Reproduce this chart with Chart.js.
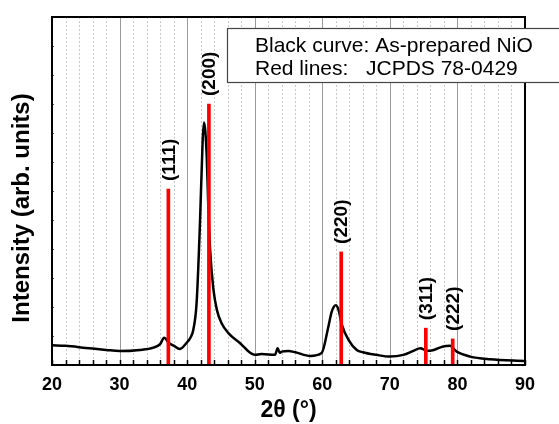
<!DOCTYPE html>
<html>
<head>
<meta charset="utf-8">
<script src="https://cdn.jsdelivr.net/npm/chart.js@4.4.1/dist/chart.umd.min.js"></script>
<style>
  html, body { margin: 0; padding: 0; background: #fff; }
  #wrap { position: relative; width: 559px; height: 424px; }
</style>
</head>
<body>
<div id="wrap"><canvas id="xrdChart"></canvas></div>
<script>
// measured pattern (2theta in degrees, intensity in arbitrary units)
const twoTheta = [20, 22, 25, 28, 30, 33, 35, 36, 36.6, 37.3, 38, 38.9, 39.9, 40.5, 40.9, 41.4, 41.9, 42.3, 42.5,
  42.9, 43.1, 43.4, 43.9, 44.4, 45.1, 46.1, 47.8, 50, 51, 53, 53.4, 53.7, 54, 55, 56, 58.2, 59.9, 60.9, 61.4,
  62.0, 62.4, 62.9, 63.9, 65.1, 66, 68, 70, 72, 73.5, 74.5, 75.5, 76.5, 77.9, 78.9, 79.9, 81.9, 84.8, 90];
const intensity = [6.8, 6.6, 5.9, 5.2, 4.8, 5.2, 6.0, 7.2, 9.4, 7.6, 6.7, 5.5, 7.6, 9.5, 12, 21.4, 49, 77.6, 83.6,
  71.9, 56.9, 39.6, 25.9, 19, 14.4, 11, 7.6, 3.5, 3.8, 3.5, 5.8, 4.2, 4.6, 4.8, 4.4, 3.1, 4.1, 13.2, 18.4,
  20.6, 19, 13.8, 8.6, 5.2, 4.4, 3.5, 2.9, 3.5, 4.9, 5.8, 4.9, 5.2, 6.4, 6.6, 4.6, 2.9, 2.0, 1.4];

// JCPDS 78-0429 reference lines
const refPos = [37.22, 43.22, 62.8, 75.32, 79.3];
const refInt = [60.7, 90, 39, 12.7, 9];
const refHkl = ['(111)', '(200)', '(220)', '(311)', '(222)'];

const xMin = 20, xMax = 90;
const yMax = 120;
const legendLabels = ['Black curve: As-prepared NiO', 'Red lines:', 'JCPDS 78-0429'];
const xTitle = '2\u03B8 (\u00B0)';
const yTitle = 'Intensity (arb. units)';

const FONT = "'Liberation Sans', Arial, sans-serif";

const framePlugin = {
  id: 'frame',
  beforeDatasetsDraw(chart) {
    const { ctx, chartArea: a, scales: { x } } = chart;
    ctx.save();
    for (let v = xMin + 2; v < xMax; v += 2) {
      const px = Math.round(x.getPixelForValue(v)) + 0.5;
      ctx.beginPath();
      if (v % 10 === 0) {
        ctx.strokeStyle = '#9a9a9a';
        ctx.setLineDash([]);
      } else {
        ctx.strokeStyle = '#c8c8c8';
        ctx.setLineDash([2, 2]);
      }
      ctx.lineWidth = 1;
      ctx.moveTo(px, a.top);
      ctx.lineTo(px, a.bottom);
      ctx.stroke();
    }
    ctx.restore();
  },
  afterDatasetsDraw(chart) {
    const { ctx, chartArea: a, scales: { x, y } } = chart;
    ctx.save();
    // peak labels
    const bars = chart.getDatasetMeta(0).data;
    ctx.fillStyle = '#000';
    ctx.font = 'bold 19px ' + FONT;
    ctx.textAlign = 'left';
    ctx.textBaseline = 'middle';
    bars.forEach((b, i) => {
      ctx.save();
      ctx.translate(b.x + 1, b.y - 8);
      ctx.rotate(-Math.PI / 2);
      ctx.fillText(refHkl[i], 0, 0);
      ctx.restore();
    });
    // inside ticks
    ctx.strokeStyle = '#000';
    ctx.lineWidth = 1.5;
    for (let v = xMin; v <= xMax; v += 2) {
      const px = Math.round(x.getPixelForValue(v)) + 0.5;
      ctx.beginPath();
      ctx.moveTo(px, a.bottom);
      ctx.lineTo(px, a.bottom - 5);
      ctx.stroke();
    }
    ctx.lineWidth = 1;
    ctx.strokeStyle = '#555';
    for (let v = 10; v < yMax; v += 10) {
      const py = Math.round(y.getPixelForValue(v)) + 0.5;
      ctx.beginPath();
      ctx.moveTo(a.left, py);
      ctx.lineTo(a.left + 2, py);
      ctx.stroke();
    }
    // frame
    ctx.strokeStyle = '#000';
    ctx.lineWidth = 2;
    ctx.strokeRect(a.left, a.top, a.right - a.left, a.bottom - a.top);
    // legend box
    ctx.fillStyle = '#fff';
    ctx.fillRect(227, 28, 340, 54);
    ctx.strokeStyle = '#444';
    ctx.lineWidth = 1.2;
    ctx.strokeRect(227.5, 28.5, 340, 54);
    ctx.fillStyle = '#000';
    ctx.font = '21px ' + FONT;
    ctx.textBaseline = 'alphabetic';
    ctx.textAlign = 'left';
    ctx.fillText(legendLabels[0], 255, 52);
    ctx.fillText(legendLabels[1], 255, 75);
    ctx.fillText(legendLabels[2], 366, 75);
    // y title
    ctx.translate(22, 208);
    ctx.rotate(-Math.PI / 2);
    ctx.textAlign = 'center';
    ctx.textBaseline = 'middle';
    ctx.font = 'bold 24px ' + FONT;
    ctx.fillText(yTitle, 0, 0);
    ctx.restore();
  }
};

new Chart(document.getElementById('xrdChart'), {
  type: 'line',
  data: {
    datasets: [
      {
        type: 'bar',
        label: 'JCPDS 78-0429',
        data: refPos.map((p, i) => ({ x: p, y: refInt[i] })),
        backgroundColor: '#ff0000',
        barThickness: 3,
        grouped: false,
        order: 0
      },
      {
        type: 'line',
        label: 'As-prepared NiO',
        data: twoTheta.map((t, i) => ({ x: t, y: intensity[i] })),
        borderColor: '#000',
        borderWidth: 2.5,
        pointRadius: 0,
        cubicInterpolationMode: 'monotone',
        fill: false,
        order: 1
      }
    ]
  },
  options: {
    responsive: true,
    maintainAspectRatio: false,
    animation: false,
    devicePixelRatio: 1,
    layout: { padding: { top: 17, right: 34, left: 0, bottom: 0 } },
    plugins: { legend: { display: false }, tooltip: { enabled: false } },
    scales: {
      x: {
        type: 'linear',
        offset: false,
        min: xMin,
        max: xMax,
        grid: { display: false, drawTicks: false, offset: false },
        border: { display: false },
        ticks: {
          stepSize: 10,
          autoSkip: false,
          maxRotation: 0,
          padding: 9,
          color: '#000',
          font: { family: FONT, size: 18, weight: 'bold' }
        },
        title: {
          display: true,
          text: xTitle,
          color: '#000',
          padding: 0,
          font: { family: FONT, size: 23, weight: 'bold' }
        },
        afterFit: (s) => { s.height = 59; }
      },
      y: {
        min: 0,
        max: yMax,
        grid: { display: false, drawTicks: false },
        border: { display: false },
        ticks: { display: false },
        afterFit: (s) => { s.width = 52; }
      }
    }
  },
  plugins: [framePlugin]
});
</script>
</body>
</html>
